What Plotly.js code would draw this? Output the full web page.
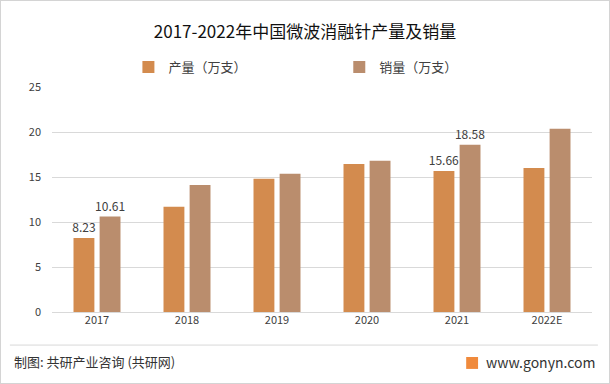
<!DOCTYPE html>
<html>
<head>
<meta charset="utf-8">
<script src="https://cdn.plot.ly/plotly-3.0.1.min.js"></script>
<style>
  html, body { margin: 0; padding: 0; background: #fff; }
  #wrap { position: relative; width: 610px; height: 384px; }
  #chart { width: 610px; height: 384px; }
  #frame { position: absolute; left: 0; top: 0; width: 608px; height: 382px; border: 1px solid #d4d4d4; pointer-events: none; }
</style>
</head>
<body>
<div id="wrap"><div id="chart"></div><div id="frame"></div></div>
<script>
const years = ['2017', '2018', '2019', '2020', '2021', '2022E'];
const production = [8.23, 11.7, 14.8, 16.45, 15.66, 16.0];
const sales = [10.61, 14.1, 15.35, 16.8, 18.58, 20.35];
const productionLabels = ['8.23', '', '', '', '15.66', ''];
const salesLabels = ['10.61', '', '', '', '18.58', ''];
const yTicks = [0, 5, 10, 15, 20, 25];

const FONT = '"Noto Sans CJK SC", "Noto Sans", sans-serif';
const labelFont = { family: FONT, size: 12, color: '#404040' };
const legendFont = { family: FONT, size: 13, color: '#404040' };

const traces = [
  {
    type: 'bar', name: '产量（万支）', x: years, y: production,
    marker: { color: '#D38B4E' }, legend: 'legend',
    text: productionLabels, textposition: 'outside', textfont: labelFont,
    constraintext: 'none', cliponaxis: false, hoverinfo: 'x+y'
  },
  {
    type: 'bar', name: '销量（万支）', x: years, y: sales,
    marker: { color: '#BA8D6D' }, legend: 'legend2',
    text: salesLabels, textposition: 'outside', textfont: labelFont,
    constraintext: 'none', cliponaxis: false, hoverinfo: 'x+y'
  }
];

// very faint watermark positions (paper coords)
const wm = [];
const wmSpots = [[0.30, 1.33], [0.95, 1.2], [0.12, 0.78], [0.62, 0.72], [0.25, 0.2], [0.72, 0.18], [-0.03, 1.15]];
wmSpots.forEach(p => {
  wm.push({ text: '<b>G共研产业咨询</b>', xref: 'paper', yref: 'paper', x: p[0], y: p[1],
    showarrow: false, textangle: -12, font: { family: FONT, size: 24, color: 'rgba(0,0,0,0.022)' } });
  wm.push({ text: 'w w w . g o n y n . c o m', xref: 'paper', yref: 'paper', x: p[0] + 0.01, y: p[1] - 0.14,
    showarrow: false, textangle: -12, font: { family: FONT, size: 16, color: 'rgba(0,0,0,0.022)' } });
});

const layout = {
  width: 610, height: 384,
  margin: { l: 52, r: 18, t: 87, b: 72 },
  paper_bgcolor: '#ffffff', plot_bgcolor: '#ffffff',
  font: { family: FONT, color: '#404040' },
  title: {
    text: '2017-2022年中国微波消融针产量及销量',
    font: { family: FONT, size: 17, color: '#111111' },
    x: 0.5, xanchor: 'center', y: 0.917, yanchor: 'middle', yref: 'container'
  },
  barmode: 'group', bargap: 0.42, bargroupgap: 0.2,
  showlegend: true,
  legend: {
    orientation: 'h', x: 0.1415, xanchor: 'left', y: 1.089, yanchor: 'middle',
    font: legendFont, bgcolor: 'rgba(0,0,0,0)'
  },
  legend2: {
    orientation: 'h', x: 0.532, xanchor: 'left', y: 1.089, yanchor: 'middle',
    font: legendFont, bgcolor: 'rgba(0,0,0,0)'
  },
  xaxis: {
    type: 'category', showgrid: false, showline: false, zeroline: false,
    ticks: '', tickfont: { family: FONT, size: 11, color: '#404040' }
  },
  yaxis: {
    range: [0, 25], tickvals: yTicks, ticktext: yTicks.map(String),
    showgrid: true, gridcolor: '#d9d9d9', gridwidth: 1,
    zeroline: true, zerolinecolor: '#d9d9d9', zerolinewidth: 1,
    showline: false, ticks: '', ticklabelstandoff: 10,
    tickfont: { family: FONT, size: 11, color: '#404040' }
  },
  shapes: [
    { type: 'line', xref: 'paper', yref: 'paper', x0: -0.078, x1: 1.011, y0: -0.147, y1: -0.147,
      line: { color: '#d9d9d9', width: 1 } },
    { type: 'rect', xref: 'paper', yref: 'paper', x0: 0.767, x1: 0.789, y0: -0.2, y1: -0.253,
      fillcolor: '#F08A3C', line: { width: 0 } }
  ],
  annotations: wm.concat([
    { text: '制图: 共研产业咨询 (共研网)', xref: 'paper', yref: 'paper', x: -0.074, y: -0.222,
      xanchor: 'left', yanchor: 'middle', showarrow: false,
      font: { family: FONT, size: 13, color: '#333333' } },
    { text: 'www.gonyn.com', xref: 'paper', yref: 'paper', x: 1.01, y: -0.222,
      xanchor: 'right', yanchor: 'middle', showarrow: false,
      font: { family: FONT, size: 14, color: '#333333' } }
  ])
};

Plotly.newPlot('chart', traces, layout, { displayModeBar: false, responsive: false });
</script>
</body>
</html>
